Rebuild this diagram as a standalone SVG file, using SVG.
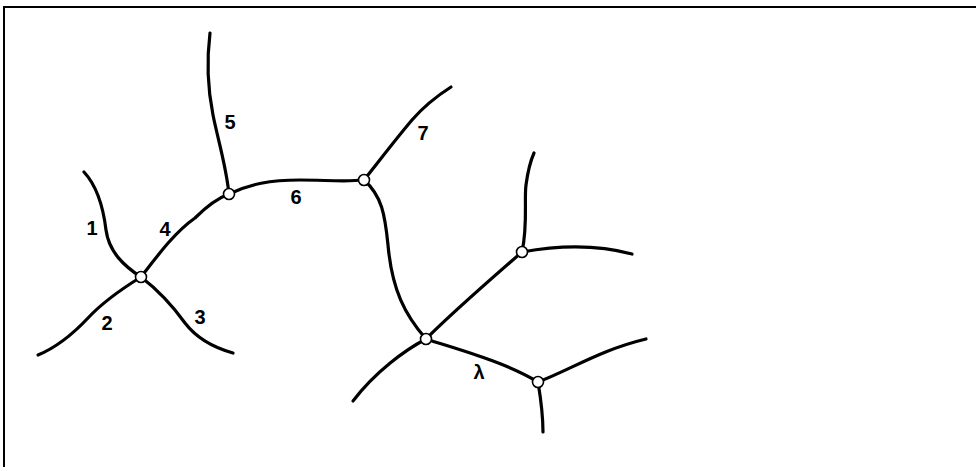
<svg xmlns="http://www.w3.org/2000/svg" width="976" height="467" viewBox="0 0 976 467">
<style>
.e{fill:none;stroke:#000;stroke-width:3.2;stroke-linecap:round;stroke-linejoin:round}
.n{fill:#fff;stroke:#000;stroke-width:1.6}
.t{font-family:"Liberation Sans",Arial,sans-serif;font-weight:bold;font-size:20px;fill:#000;text-anchor:middle}
.b{fill:none;stroke:#000;stroke-width:2}
</style>
<rect width="976" height="467" fill="#fff"/>
<path class="b" d="M4,467 V7 H976"/>
<g id="connectors">
<path class="e" d="M84,172 C96,185 103,205 106,230 C109,252 124,266 141,277"/>
<path class="e" d="M141,277 C120,290 100,305 88,318 C72,335 55,348 38,355"/>
<path class="e" d="M141,277 C158,290 172,305 185,323 C198,340 215,348 233,353"/>
<path class="e" d="M141,277 C158,255 175,232 195,218 C208,205 218,198 229,194"/>
<path class="e" d="M229,194 C226,165 218,140 213,115 C208,90 206,65 210,33"/>
<path class="e" d="M229,194 C250,184 270,180 300,180 C325,180 345,182 364,180"/>
<path class="e" d="M364,180 C380,160 395,140 412,120 C425,105 440,94 451,87"/>
<path class="e" d="M364,180 C382,196 385,215 388,245 C392,290 405,315 426,339"/>
<path class="e" d="M426,339 C455,310 490,280 522,252"/>
<path class="e" d="M522,252 C528,225 524,200 526,185 C528,170 530,162 534,153"/>
<path class="e" d="M522,252 C555,246 595,244 632,254"/>
<path class="e" d="M426,339 C405,350 375,372 353,401"/>
<path class="e" d="M426,339 C460,350 505,362 538,382"/>
<path class="e" d="M538,382 C570,370 600,350 646,339"/>
<path class="e" d="M538,382 C541,400 543,415 543,432"/>
</g>
<g id="labels">
<text class="t" x="92" y="235">1</text>
<text class="t" x="107" y="330">2</text>
<text class="t" x="200" y="324">3</text>
<text class="t" x="165" y="236">4</text>
<text class="t" x="230" y="129">5</text>
<text class="t" x="296" y="204">6</text>
<text class="t" x="423" y="140">7</text>
<text class="t" x="479" y="379">λ</text>
</g>
<g id="nodeA"><circle class="n" cx="141" cy="277" r="5.5"/></g>
<g id="nodeB"><circle class="n" cx="229" cy="194" r="5.5"/></g>
<g id="nodeC"><circle class="n" cx="364" cy="180" r="5.5"/></g>
<g id="nodeD"><circle class="n" cx="426" cy="339" r="5.5"/></g>
<g id="nodeE"><circle class="n" cx="522" cy="252" r="5.5"/></g>
<g id="nodeF"><circle class="n" cx="538" cy="382" r="5.5"/></g>
</svg>
